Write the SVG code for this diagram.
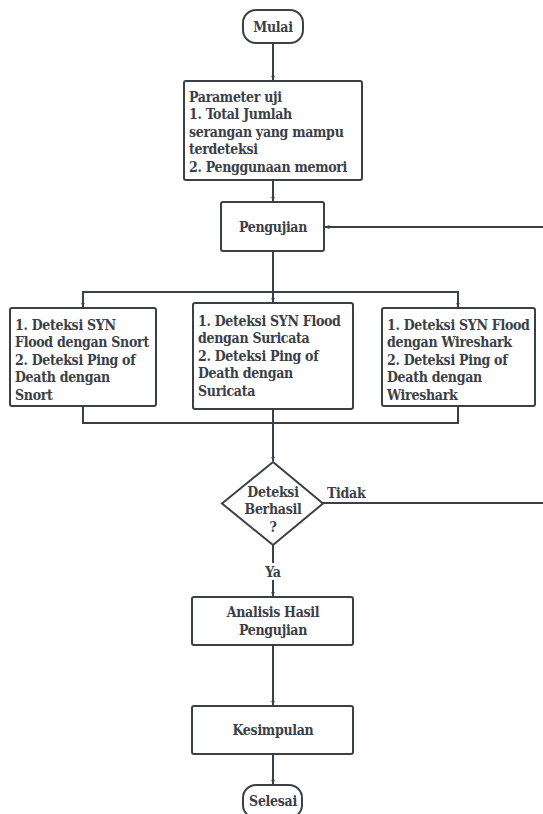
<svg xmlns="http://www.w3.org/2000/svg" width="543" height="814" viewBox="0 0 543 814">
<defs>
<style>
.s{fill:#fff;stroke:#3b4048;stroke-width:2}
.c{fill:none;stroke:#3b4048;stroke-width:2}
text{font-family:"DejaVu Serif Condensed","DejaVu Serif",serif;font-weight:bold;font-size:14px;fill:#3b4048;font-stretch:condensed;letter-spacing:-0.3px}
.m{text-anchor:middle}
</style>
<marker id="a" viewBox="0 0 10 10" refX="9" refY="5" markerWidth="5" markerHeight="5" orient="auto-start-reverse" markerUnits="userSpaceOnUse">
<path d="M0,1 L10,5 L0,9 z" fill="#3b4048"/>
</marker>
</defs>
<rect width="543" height="814" fill="#fff"/>
<g id="connectors">
<path class="c" d="M273,43 V80" marker-end="url(#a)"/>
<path class="c" d="M273,180 V201" marker-end="url(#a)"/>
<path class="c" d="M543,227 H325" marker-end="url(#a)"/>
<path class="c" d="M273,251 V302" marker-end="url(#a)"/>
<path class="c" d="M83,307 V292 H458 V307" marker-end="url(#a)"/>
<path class="c" d="M83,292 V307" marker-end="url(#a)"/>
<path class="c" d="M83,406 V423 H458 V406"/>
<path class="c" d="M273,409 V461" marker-end="url(#a)"/>
<path class="c" d="M323,503 H543"/>
<path class="c" d="M273,545 V596" marker-end="url(#a)"/>
<path class="c" d="M273,645 V705" marker-end="url(#a)"/>
<path class="c" d="M273,754 V784" marker-end="url(#a)"/>
<rect x="262" y="563" width="22" height="17" fill="#fff"/>
<text class="m" x="273" y="577">Ya</text>
<text x="327" y="498">Tidak</text>
</g>
<g id="mulai">
<rect class="s" x="243" y="10" width="60" height="33" rx="13"/>
<text class="m" x="273" y="32">Mulai</text>
</g>
<g id="parameter">
<rect class="s" x="184" y="81" width="178" height="99" rx="2"/>
<text x="189" y="102">Parameter uji</text>
<text x="189" y="119">1. Total Jumlah</text>
<text x="189" y="137">serangan yang mampu</text>
<text x="189" y="154">terdeteksi</text>
<text x="189" y="172">2. Penggunaan memori</text>
</g>
<g id="pengujian">
<rect class="s" x="221" y="202" width="103" height="49" rx="2"/>
<text class="m" x="273" y="232">Pengujian</text>
</g>
<g id="snort">
<rect class="s" x="10" y="308" width="146" height="98" rx="2"/>
<text x="15" y="330">1. Deteksi SYN</text>
<text x="15" y="347">Flood dengan Snort</text>
<text x="15" y="365">2. Deteksi Ping of</text>
<text x="15" y="382">Death dengan</text>
<text x="15" y="400">Snort</text>
</g>
<g id="suricata">
<rect class="s" x="193" y="303" width="160" height="106" rx="2"/>
<text x="198" y="326">1. Deteksi SYN Flood</text>
<text x="198" y="343">dengan Suricata</text>
<text x="198" y="361">2. Deteksi Ping of</text>
<text x="198" y="378">Death dengan</text>
<text x="198" y="396">Suricata</text>
</g>
<g id="wireshark">
<rect class="s" x="382" y="308" width="153" height="98" rx="2"/>
<text x="387" y="330">1. Deteksi SYN Flood</text>
<text x="387" y="347">dengan Wireshark</text>
<text x="387" y="365">2. Deteksi Ping of</text>
<text x="387" y="382">Death dengan</text>
<text x="387" y="400">Wireshark</text>
</g>
<g id="deteksi">
<path class="s" d="M273,462 L323,503.5 L273,545 L222,503.5 Z"/>
<text class="m" x="273" y="497">Deteksi</text>
<text class="m" x="273" y="514">Berhasil</text>
<text class="m" x="273" y="532">?</text>
</g>
<g id="analisis">
<rect class="s" x="192" y="597" width="161" height="48" rx="2"/>
<text class="m" x="273" y="617">Analisis Hasil</text>
<text class="m" x="273" y="635">Pengujian</text>
</g>
<g id="kesimpulan">
<rect class="s" x="192" y="706" width="161" height="48" rx="2"/>
<text class="m" x="273" y="735">Kesimpulan</text>
</g>
<g id="selesai">
<rect class="s" x="243" y="785" width="59" height="33" rx="13"/>
<text class="m" x="273" y="806">Selesai</text>
</g>
</svg>
